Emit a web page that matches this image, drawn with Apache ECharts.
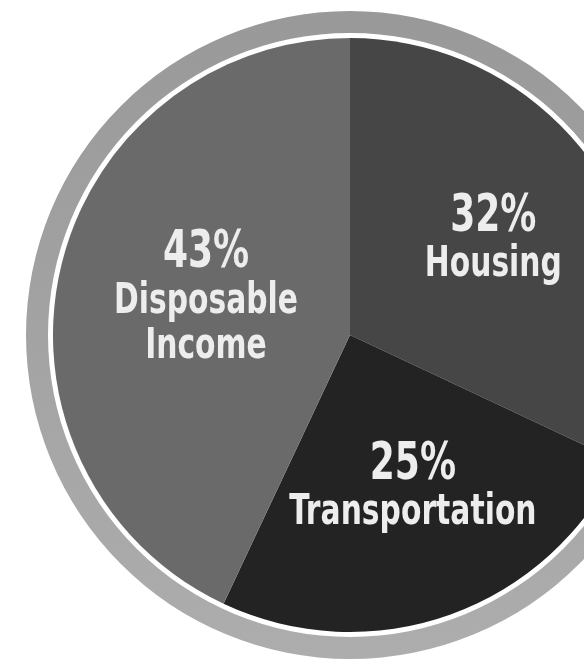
<!DOCTYPE html>
<html>
<head>
<meta charset="utf-8">
<script src="https://cdn.jsdelivr.net/npm/echarts@6/dist/echarts.min.js"></script>
<style>
html,body{margin:0;padding:0;background:#fff;}
#c{width:584px;height:659px;}
</style>
</head>
<body>
<div id="c"></div>
<script>
const categories = ['Housing', 'Transportation', 'Disposable Income'];
const values = [32, 25, 43];
const sliceColors = ['#464646', '#232323', '#6a6a6a'];
const labelShift = [[20, -14], [15, 10], [5, -3]];

const chart = echarts.init(document.getElementById('c'), null, {renderer: 'canvas'});
const FONT = '"Liberation Sans Narrow", "DejaVu Sans Condensed", "Roboto Condensed", sans-serif';
const CONDENSE = 0.77;

chart.setOption({
  backgroundColor: '#ffffff',
  animation: false,
  series: [
    {
      type: 'pie',
      silent: true,
      center: [350, 335],
      radius: [302, 324],
      startAngle: 90,
      label: {show: false},
      labelLine: {show: false},
      itemStyle: {
        color: new echarts.graphic.LinearGradient(0, 0, 0, 1, [
          {offset: 0, color: '#999999'},
          {offset: 1, color: '#adadad'}
        ])
      },
      data: [{value: 1, name: 'ring'}]
    },
    {
      type: 'pie',
      center: [350, 335],
      radius: [0, 297],
      startAngle: 90,
      clockwise: true,
      avoidLabelOverlap: false,
      data: categories.map((c, i) => ({
        name: c,
        value: values[i],
        itemStyle: {color: sliceColors[i]}
      })),
      label: {
        show: true,
        position: 'inner',
        formatter: p => '{p|' + p.value + '%}\n{n|' + p.name.split(' ').join('}\n{n|') + '}',
        color: '#ededed',
        fontFamily: FONT,
        fontWeight: 'bold',
        align: 'center',
        rich: {
          p: {fontSize: 52, lineHeight: 50, fontFamily: FONT, fontWeight: 'bold', color: '#ededed'},
          n: {fontSize: 43, lineHeight: 45, fontFamily: FONT, fontWeight: 'bold', color: '#ededed'}
        }
      },
      labelLine: {show: false},
      labelLayout: params => ({dx: labelShift[params.dataIndex][0], dy: labelShift[params.dataIndex][1]})
    }
  ]
});

// Condense the label glyphs horizontally to mimic a narrow display typeface
function condense() {
  const zr = chart.getZr();
  const visit = el => {
    if (el.getTextContent) {
      const t = el.getTextContent();
      if (t && t.style && typeof t.style.text === 'string' && t.style.text.indexOf('%') >= 0) {
        t.scaleX = CONDENSE;
        t.originX = 0;
        t.markRedraw();
      }
    }
    if (el.childrenRef) el.childrenRef().forEach(visit);
  };
  zr.storage.getRoots().forEach(visit);
  zr.refreshImmediately();
}
condense();
chart.on('finished', condense);
</script>
</body>
</html>
